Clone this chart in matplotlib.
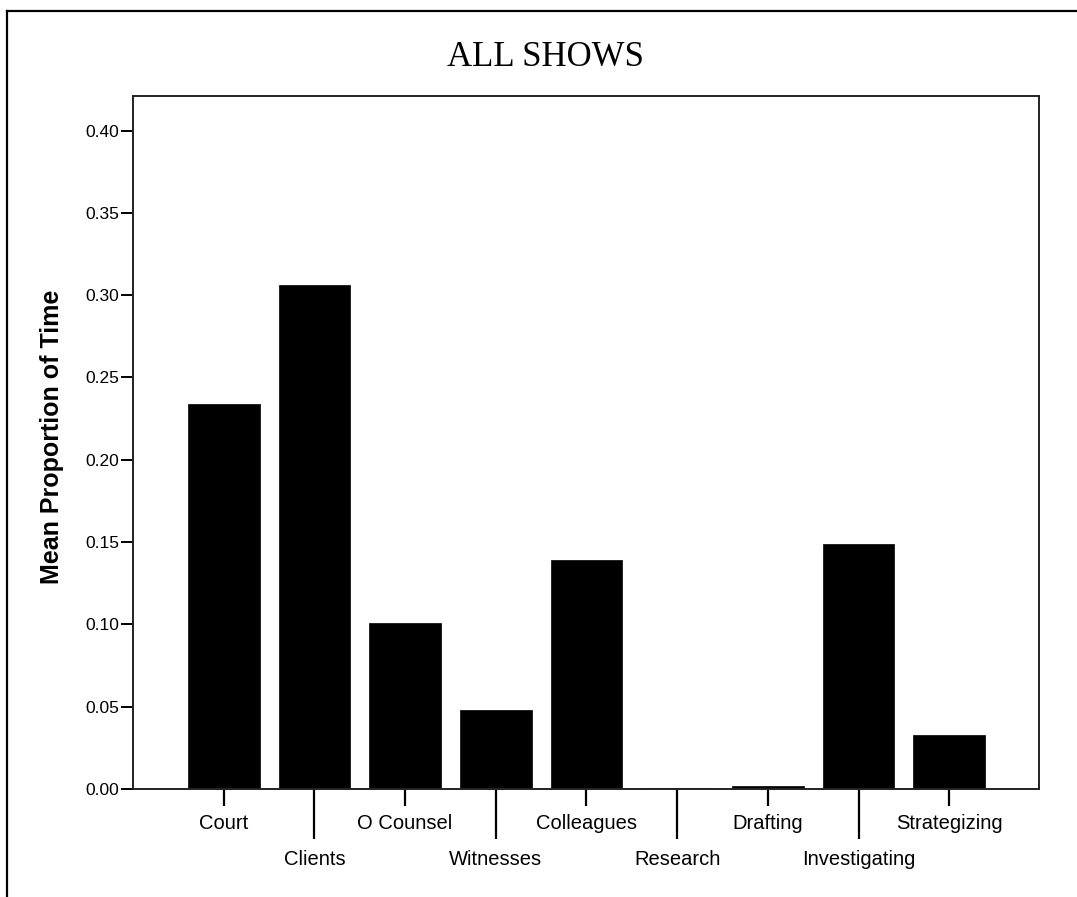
import matplotlib
matplotlib.use("Agg")
import matplotlib.pyplot as plt
from matplotlib.lines import Line2D
import numpy as np

categories = ["Court", "Clients", "O Counsel", "Witnesses", "Colleagues",
              "Research", "Drafting", "Investigating", "Strategizing"]
values = [0.234, 0.306, 0.101, 0.048, 0.139, 0.0008, 0.0018, 0.149, 0.033]
yticks = [0.00, 0.05, 0.10, 0.15, 0.20, 0.25, 0.30, 0.35, 0.40]
title = "ALL SHOWS"
ylabel = "Mean Proportion of Time"

W, H = 1077, 897
fig = plt.figure(figsize=(W / 100, H / 100), dpi=100)
ax = fig.add_axes([133 / W, 1 - 789 / H, (1039 - 133) / W, (789 - 96) / H])

x = np.arange(len(categories))
ax.bar(x, values, width=0.79, color="black", edgecolor="black", linewidth=0.5)

ax.set_xlim(-1.0, len(categories) - 0.01)
ax.set_ylim(0, 0.421)
ax.set_yticks(yticks)
ax.set_yticklabels([f"{v:.2f}" for v in yticks], fontsize=12.5,
                   family="Liberation Sans")
ax.tick_params(axis="y", direction="out", length=8.5, width=1.4, pad=1.5)

even = x[0::2]
odd = x[1::2]
ax.set_xticks(even)
ax.set_xticklabels([categories[i] for i in even], fontsize=14.5,
                   family="Liberation Sans")
ax.set_xticks(odd, minor=True)
ax.set_xticklabels([categories[i] for i in odd], minor=True, fontsize=14.5,
                   family="Liberation Sans")
ax.tick_params(axis="x", which="major", direction="out", length=12, width=1.6, pad=6)
ax.tick_params(axis="x", which="minor", direction="out", length=36, width=1.6, pad=8)

for s in ax.spines.values():
    s.set_linewidth(1.4)
    s.set_color("#222222")

ax.set_ylabel(ylabel, fontsize=18, fontweight="bold", family="Liberation Sans")
ax.yaxis.set_label_coords(-(133 - 64) / (1039 - 133), 0.508)

fig.text(545 / W, 1 - 58 / H, title, ha="center", va="center",
         fontsize=25, family="Liberation Serif")

# outer frame (left and top edges)
fig.add_artist(Line2D([7 / W, 7 / W], [0, 1 - 11 / H], transform=fig.transFigure,
                      color="black", linewidth=1.6))
fig.add_artist(Line2D([7 / W, 1], [1 - 11 / H, 1 - 11 / H], transform=fig.transFigure,
                      color="black", linewidth=1.6))

fig.savefig("out.png", dpi=100, facecolor="white")
